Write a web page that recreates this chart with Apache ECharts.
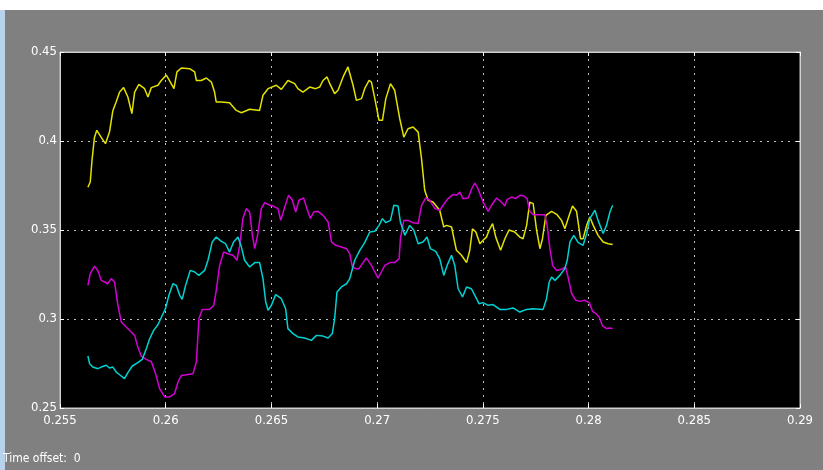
<!DOCTYPE html>
<html>
<head>
    <meta charset="utf-8">
    <title>Scope</title>
    <style>
        html, body { margin: 0; padding: 0; background: #808080; }
        #chart { width: 823px; height: 470px; }
    </style>
</head>
<body>
<div id="chart"></div>
<script src="https://cdn.jsdelivr.net/npm/echarts@6/dist/echarts.min.js"></script>
<script>
    // axis ticks
    let xTicks = [0.255, 0.26, 0.265, 0.27, 0.275, 0.28, 0.285, 0.29];
    let yTicks = [0.25, 0.3, 0.35, 0.4, 0.45];

    // [time, value]
    let yellowData = [
        [0.25632, 0.374], [0.25643, 0.377], [0.25652, 0.390], [0.25663, 0.402], [0.25674, 0.406],
        [0.25695, 0.402], [0.25715, 0.3985], [0.25734, 0.405], [0.25750, 0.417], [0.25766, 0.422],
        [0.25782, 0.4275], [0.25801, 0.430], [0.25821, 0.4247], [0.25840, 0.4154], [0.25853, 0.4275],
        [0.25873, 0.4318], [0.25900, 0.4294], [0.25916, 0.4247], [0.25932, 0.430], [0.25963, 0.4313],
        [0.25979, 0.434], [0.26003, 0.437], [0.26022, 0.4331], [0.26039, 0.4294], [0.26053, 0.4388],
        [0.26074, 0.441], [0.26113, 0.4406], [0.26137, 0.4388], [0.26145, 0.434], [0.26168, 0.434],
        [0.26192, 0.4354], [0.26216, 0.4331], [0.26231, 0.4275], [0.26239, 0.4219], [0.26263, 0.4219],
        [0.26302, 0.4215], [0.26334, 0.4172], [0.26358, 0.4159], [0.26397, 0.4178], [0.26444, 0.4172],
        [0.26460, 0.4257], [0.26484, 0.4294], [0.26523, 0.4313], [0.26547, 0.429], [0.26578, 0.434],
        [0.26610, 0.4322], [0.26625, 0.4294], [0.26649, 0.4275], [0.26681, 0.4303], [0.26709, 0.4294],
        [0.26728, 0.4303], [0.26744, 0.434], [0.26763, 0.436], [0.26776, 0.4322], [0.26799, 0.4266],
        [0.26815, 0.4285], [0.26839, 0.436], [0.26862, 0.4416], [0.26886, 0.4313], [0.26902, 0.4228],
        [0.26926, 0.4238], [0.26941, 0.4294], [0.26962, 0.434], [0.26973, 0.4331], [0.26989, 0.4238],
        [0.27009, 0.4116], [0.27025, 0.4116], [0.27041, 0.4238], [0.27063, 0.4322], [0.27083, 0.4285],
        [0.27107, 0.4125], [0.27126, 0.4022], [0.27146, 0.4069], [0.27170, 0.4079], [0.27194, 0.405],
        [0.27210, 0.390], [0.27225, 0.3723], [0.27241, 0.3667], [0.27264, 0.3657], [0.27296, 0.3611],
        [0.27315, 0.3517], [0.27328, 0.3526], [0.27352, 0.3517], [0.27375, 0.3386], [0.27399, 0.3358],
        [0.27423, 0.3317], [0.27438, 0.3385], [0.27451, 0.3507], [0.27467, 0.3489], [0.27486, 0.3423],
        [0.27501, 0.3442], [0.27517, 0.346], [0.27530, 0.350], [0.27546, 0.3536], [0.27561, 0.346],
        [0.27584, 0.3386], [0.27604, 0.3451], [0.27624, 0.350], [0.27651, 0.3489], [0.27675, 0.346],
        [0.27690, 0.3451], [0.27707, 0.3526], [0.27722, 0.3657], [0.27738, 0.3648], [0.27754, 0.350],
        [0.27770, 0.3395], [0.27782, 0.3451], [0.27798, 0.3582], [0.27825, 0.3605], [0.27851, 0.3586],
        [0.27872, 0.3554], [0.27888, 0.3507], [0.27908, 0.3582], [0.27924, 0.3635], [0.27943, 0.3605],
        [0.27962, 0.3451], [0.27974, 0.3451], [0.27991, 0.3526], [0.28006, 0.3573], [0.28022, 0.3526],
        [0.28045, 0.347], [0.28069, 0.3433], [0.28093, 0.3423], [0.28114, 0.3418]
    ];

    let magentaData = [
        [0.25632, 0.3189], [0.25643, 0.3255], [0.25663, 0.3296], [0.25679, 0.3273], [0.25695, 0.3217],
        [0.25711, 0.3208], [0.25726, 0.3198], [0.25742, 0.3227], [0.25758, 0.3208], [0.25774, 0.3077],
        [0.25790, 0.2983], [0.25813, 0.2955], [0.25837, 0.2927], [0.25853, 0.2908], [0.25868, 0.2843],
        [0.25884, 0.2792], [0.25908, 0.2773], [0.25932, 0.276], [0.25952, 0.2693], [0.25971, 0.2609],
        [0.25995, 0.2562], [0.26018, 0.2562], [0.26042, 0.2581], [0.26058, 0.2646], [0.26074, 0.2683],
        [0.26097, 0.2687], [0.26129, 0.2693], [0.26145, 0.2758], [0.26157, 0.3002], [0.26173, 0.3054],
        [0.26208, 0.3055], [0.26227, 0.3075], [0.26239, 0.316], [0.26255, 0.3301], [0.26274, 0.3376],
        [0.26294, 0.3367], [0.26318, 0.3358], [0.26337, 0.333], [0.26350, 0.3414], [0.26365, 0.3564],
        [0.26381, 0.362], [0.26397, 0.3601], [0.26410, 0.347], [0.26421, 0.3395], [0.26436, 0.348],
        [0.26452, 0.362], [0.26468, 0.3654], [0.26492, 0.3639], [0.26507, 0.3635], [0.26531, 0.362],
        [0.26544, 0.3554], [0.26563, 0.3629], [0.26581, 0.3695], [0.26599, 0.3667], [0.26615, 0.3601],
        [0.26630, 0.3667], [0.26652, 0.368], [0.26668, 0.362], [0.26684, 0.3564], [0.26700, 0.3601],
        [0.26720, 0.3605], [0.26744, 0.3582], [0.26768, 0.3545], [0.26784, 0.3433], [0.26804, 0.3414],
        [0.26831, 0.3404], [0.26855, 0.3395], [0.26870, 0.3367], [0.26883, 0.3292], [0.26899, 0.3283],
        [0.26914, 0.3283], [0.26930, 0.3311], [0.26949, 0.3343], [0.26973, 0.3301], [0.26989, 0.3264],
        [0.27004, 0.323], [0.27020, 0.3264], [0.27036, 0.3301], [0.27060, 0.3317], [0.27083, 0.3317],
        [0.27104, 0.3339], [0.27110, 0.3451], [0.27126, 0.3554], [0.27146, 0.3554], [0.27170, 0.3541],
        [0.27194, 0.3536], [0.27210, 0.3639], [0.27230, 0.368], [0.27249, 0.3667], [0.27273, 0.362],
        [0.27296, 0.3611], [0.27312, 0.3639], [0.27335, 0.3676], [0.27359, 0.3699], [0.27375, 0.3695],
        [0.27391, 0.3713], [0.27406, 0.3676], [0.27430, 0.368], [0.27449, 0.3736], [0.27462, 0.3764],
        [0.27477, 0.3732], [0.27501, 0.3657], [0.27525, 0.3605], [0.27541, 0.3639], [0.27565, 0.368],
        [0.27588, 0.3657], [0.27604, 0.3635], [0.27615, 0.3672], [0.27636, 0.3685], [0.27656, 0.3676],
        [0.27675, 0.3695], [0.27694, 0.3691], [0.27709, 0.3676], [0.27722, 0.3605], [0.27738, 0.3586],
        [0.27761, 0.3586], [0.27793, 0.3586], [0.27804, 0.3526], [0.27817, 0.3395], [0.27830, 0.3301],
        [0.27849, 0.3273], [0.27872, 0.3279], [0.27891, 0.3292], [0.27903, 0.3236], [0.27920, 0.3142],
        [0.27940, 0.3105], [0.27959, 0.3099], [0.27982, 0.3105], [0.28003, 0.3092], [0.28019, 0.3043],
        [0.28035, 0.303], [0.28050, 0.3011], [0.28066, 0.2961], [0.28085, 0.2946], [0.28101, 0.2949],
        [0.28114, 0.2946]
    ];

    let cyanData = [
        [0.25632, 0.2792], [0.25640, 0.2749], [0.25655, 0.273], [0.25679, 0.2721], [0.25695, 0.273],
        [0.25719, 0.274], [0.25734, 0.2725], [0.25750, 0.273], [0.25766, 0.2702], [0.25782, 0.2687],
        [0.25805, 0.2665], [0.25821, 0.2699], [0.25842, 0.2736], [0.25868, 0.2755], [0.25889, 0.2773],
        [0.25908, 0.2833], [0.25924, 0.2889], [0.25943, 0.2936], [0.25963, 0.2968], [0.25984, 0.3021],
        [0.25999, 0.3058], [0.26015, 0.3133], [0.26034, 0.3198], [0.26050, 0.3189], [0.26066, 0.3133],
        [0.26078, 0.3111], [0.26094, 0.3189], [0.26116, 0.3273], [0.26137, 0.3264], [0.26157, 0.3245],
        [0.26184, 0.3273], [0.26200, 0.333], [0.26220, 0.3433], [0.26239, 0.3461], [0.26263, 0.3436],
        [0.26283, 0.3423], [0.26302, 0.3376], [0.26321, 0.3433], [0.26342, 0.3461], [0.26358, 0.3404],
        [0.26373, 0.333], [0.26397, 0.3292], [0.26421, 0.3317], [0.26444, 0.3317], [0.26460, 0.3227],
        [0.26473, 0.3096], [0.26484, 0.3049], [0.26500, 0.3077], [0.26520, 0.3137], [0.26547, 0.3114],
        [0.26567, 0.3058], [0.26578, 0.2946], [0.26602, 0.2918], [0.26625, 0.2899], [0.26657, 0.2893],
        [0.26689, 0.288], [0.26713, 0.2908], [0.26744, 0.2904], [0.26768, 0.2893], [0.26788, 0.2918],
        [0.26799, 0.3002], [0.26810, 0.3152], [0.26831, 0.318], [0.26855, 0.3198], [0.26870, 0.3225],
        [0.26894, 0.333], [0.26918, 0.3386], [0.26941, 0.3429], [0.26965, 0.3489], [0.26989, 0.3493],
        [0.27009, 0.3526], [0.27025, 0.3564], [0.27041, 0.3541], [0.27063, 0.3554], [0.27079, 0.3639],
        [0.27099, 0.3635], [0.27110, 0.3545], [0.27131, 0.347], [0.27154, 0.3526], [0.27173, 0.350],
        [0.27194, 0.3423], [0.27217, 0.3433], [0.27236, 0.3461], [0.27252, 0.3395], [0.27277, 0.338],
        [0.27296, 0.3339], [0.27315, 0.3245], [0.27331, 0.3301], [0.27352, 0.3358], [0.27367, 0.3301],
        [0.27383, 0.317], [0.27404, 0.3124], [0.27423, 0.318], [0.27446, 0.317], [0.27462, 0.3133],
        [0.27482, 0.3086], [0.27501, 0.3092], [0.27525, 0.3077], [0.27548, 0.3081], [0.27580, 0.3054],
        [0.27612, 0.3054], [0.27643, 0.3062], [0.27675, 0.3039], [0.27707, 0.3054], [0.27738, 0.3058],
        [0.27785, 0.3054], [0.27801, 0.3114], [0.27814, 0.3208], [0.27825, 0.3236], [0.27841, 0.3217],
        [0.27864, 0.3245], [0.27888, 0.3283], [0.27899, 0.333], [0.27912, 0.3433], [0.27930, 0.347],
        [0.27951, 0.3429], [0.27974, 0.3414], [0.27991, 0.348], [0.28006, 0.3564], [0.28030, 0.3611],
        [0.28045, 0.3554], [0.28069, 0.348], [0.28085, 0.3526], [0.28101, 0.3601], [0.28114, 0.3639]
    ];

    let labelFont = '"Liberation Sans Narrow", "DejaVu Sans Condensed", "Liberation Sans", sans-serif';
    let fmt = function(v) { return String(parseFloat(v.toFixed(3))); };

    let myChart = echarts.init(document.getElementById('chart'));

    let option = {
        backgroundColor: '#808080',
        animation: false,
        grid: {
            left: 60,
            right: 23,
            top: 52,
            bottom: 62,
            show: true,
            backgroundColor: '#000000',
            borderColor: '#c8c8c8',
            borderWidth: 1
        },
        xAxis: [
            {
                type: 'value',
                min: xTicks[0],
                max: xTicks[xTicks.length - 1],
                interval: 0.005,
                axisLine: { show: true, lineStyle: { color: '#d0d0d0', width: 1 } },
                axisTick: { show: true, inside: true, length: 4, lineStyle: { color: '#ffffff' } },
                axisLabel: { color: '#ffffff', fontSize: 13, fontFamily: labelFont, margin: 6, formatter: fmt },
                splitLine: { show: true, lineStyle: { color: '#bdbdbd', type: [2, 5], width: 1 } }
            },
            {
                type: 'value',
                position: 'top',
                min: xTicks[0],
                max: xTicks[xTicks.length - 1],
                interval: 0.005,
                axisLine: { show: true, lineStyle: { color: '#d0d0d0' } },
                axisTick: { show: true, inside: true, length: 4, lineStyle: { color: '#ffffff' } },
                axisLabel: { show: false },
                splitLine: { show: false }
            }
        ],
        yAxis: [
            {
                type: 'value',
                min: yTicks[0],
                max: yTicks[yTicks.length - 1],
                interval: 0.05,
                axisLine: { show: true, lineStyle: { color: '#d0d0d0' } },
                axisTick: { show: true, inside: true, length: 4, lineStyle: { color: '#ffffff' } },
                axisLabel: { color: '#ffffff', fontSize: 13, fontFamily: labelFont, margin: 3, formatter: fmt },
                splitLine: { show: true, lineStyle: { color: '#bdbdbd', type: [2, 5], width: 1 } }
            },
            {
                type: 'value',
                position: 'right',
                min: yTicks[0],
                max: yTicks[yTicks.length - 1],
                interval: 0.05,
                axisLine: { show: true, lineStyle: { color: '#d0d0d0' } },
                axisTick: { show: true, inside: true, length: 4, lineStyle: { color: '#ffffff' } },
                axisLabel: { show: false },
                splitLine: { show: false }
            }
        ],
        graphic: [
            { type: 'rect', left: 0, top: 0, shape: { width: 823, height: 10 }, style: { fill: '#ffffff' } },
            { type: 'rect', left: 0, top: 10, shape: { width: 5, height: 460 }, style: { fill: '#b8d2ec' } },
            {
                type: 'text', left: 3, top: 453,
                style: { text: 'Time offset:  0', fill: '#ffffff', fontSize: 12, fontFamily: labelFont }
            }
        ],
        series: [
            {
                name: 'yellow', type: 'line', data: yellowData, showSymbol: false,
                lineStyle: { color: '#e2e200', width: 1.5 }
            },
            {
                name: 'magenta', type: 'line', data: magentaData, showSymbol: false,
                lineStyle: { color: '#d400d4', width: 1.5 }
            },
            {
                name: 'cyan', type: 'line', data: cyanData, showSymbol: false,
                lineStyle: { color: '#00d2d2', width: 1.5 }
            }
        ]
    };

    myChart.setOption(option);
</script>
</body>
</html>
